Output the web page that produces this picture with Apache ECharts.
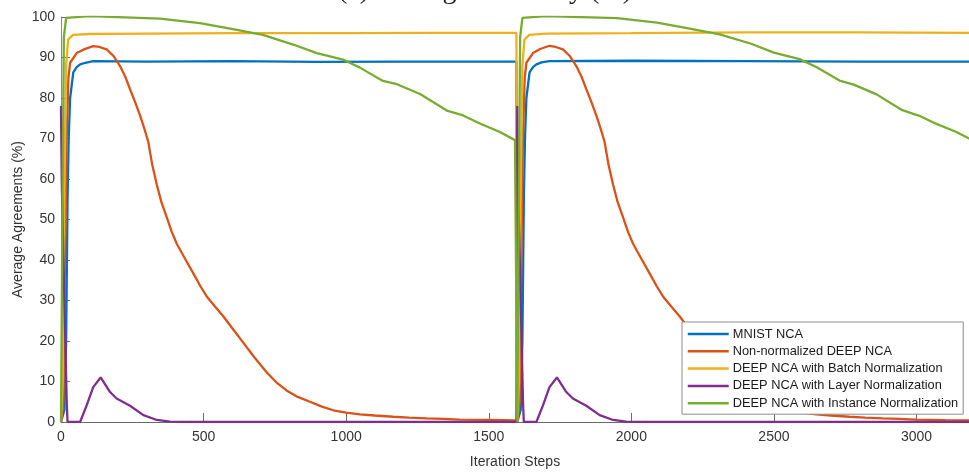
<!DOCTYPE html>
<html>
<head>
<meta charset="utf-8">
<script src="https://cdn.jsdelivr.net/npm/echarts@6/dist/echarts.min.js"></script>
<style>
html,body{margin:0;padding:0;background:#fff;}
#chart{width:969px;height:474px;}
</style>
</head>
<body>
<div id="chart"></div>
<script>
// ---- data ----
const seriesNames = [
  'MNIST NCA',
  'Non-normalized DEEP NCA',
  'DEEP NCA with Batch Normalization',
  'DEEP NCA with Layer Normalization',
  'DEEP NCA with Instance Normalization'
];
const xTicks = [0, 500, 1000, 1500, 2000, 2500, 3000];
const yTicks = [0, 10, 20, 30, 40, 50, 60, 70, 80, 90, 100];

const mnistSteps = [0, 12, 18, 23, 27, 32, 43, 55, 67, 85, 113, 300, 600, 900, 1200, 1500, 1597,
  1600, 1612, 1618, 1623, 1627, 1632, 1643, 1655, 1667, 1685, 1713, 2000, 2400, 2800, 3200];
const mnistValues = [0, 3, 20, 55, 70, 80, 86.3, 87.6, 88.3, 88.7, 89.1, 89.0, 89.1, 88.9, 89.0, 89.0, 89.0,
  0, 3, 20, 55, 70, 80, 86.3, 87.6, 88.3, 88.8, 89.1, 89.2, 89.1, 89.0, 89.0];

const plainSteps = [0, 8, 14, 20, 26, 32, 55, 80, 113, 135, 160, 185, 207, 225, 242, 260, 277, 292, 306, 320, 336, 352, 371, 388, 406, 435, 464, 490, 511, 540, 569, 600, 639, 680, 721, 755, 791, 830, 873, 915, 955, 1000, 1048, 1100, 1165, 1220, 1282, 1340, 1399, 1500, 1592,
  1600, 1608, 1614, 1620, 1626, 1632, 1655, 1680, 1713, 1735, 1760, 1785, 1807, 1825, 1842, 1860, 1877, 1892, 1906, 1920, 1936, 1952, 1971, 1988, 2006, 2035, 2064, 2090, 2111, 2140, 2169, 2200, 2239, 2280, 2321, 2355, 2391, 2430, 2473, 2515, 2555, 2600, 2648, 2700, 2765, 2820, 2882, 2940, 2999, 3100, 3200];
const plainValues = [0, 5, 40, 70, 85, 88.7, 91.1, 92.0, 92.8, 92.6, 92.0, 90.3, 87.9, 85.3, 82.2, 79.0, 75.7, 72.5, 69.2, 63.5, 58.6, 54.3, 50.5, 47.0, 44.0, 40.3, 36.7, 33.4, 31.0, 28.5, 26.1, 23.2, 19.6, 15.8, 12.3, 9.8, 7.8, 6.2, 5.0, 3.8, 2.9, 2.3, 1.9, 1.6, 1.3, 1.1, 0.9, 0.75, 0.6, 0.5, 0.4,
  0, 5, 40, 70, 85, 88.7, 91.1, 92.1, 92.9, 92.6, 92.0, 90.3, 87.9, 85.3, 82.2, 79.0, 75.7, 72.5, 69.2, 63.5, 58.6, 54.3, 50.5, 47.0, 44.0, 40.3, 36.7, 33.4, 31.0, 28.5, 26.1, 23.2, 19.6, 15.8, 12.3, 9.8, 7.8, 6.2, 5.0, 3.8, 2.9, 2.3, 1.9, 1.6, 1.3, 1.1, 0.9, 0.75, 0.6, 0.45, 0.35];

const batchSteps = [0, 6, 12, 18, 25, 42, 100, 300, 600, 1000, 1300, 1597,
  1600, 1606, 1612, 1618, 1625, 1642, 1700, 2000, 2400, 2800, 3200];
const batchValues = [0, 10, 58, 88, 94.4, 95.6, 95.8, 95.9, 96.0, 96.0, 96.1, 96.1,
  0, 10, 58, 88, 94.4, 95.6, 95.9, 96.0, 96.2, 96.2, 96.1];

const layerSteps = [0, 3, 12, 20, 23, 67, 90, 113, 139, 172, 195, 242, 289, 336, 382, 450, 1597,
  1600, 1603, 1612, 1620, 1623, 1667, 1690, 1713, 1739, 1772, 1795, 1842, 1889, 1936, 1982, 2050, 3200];
const layerValues = [78, 58, 30, 5, 0, 0, 4.1, 8.6, 11.0, 7.4, 5.8, 4.0, 1.7, 0.5, 0.1, 0, 0,
  78, 58, 30, 5, 0, 0, 4.1, 8.6, 11.0, 7.4, 5.8, 4.0, 1.7, 0.5, 0.1, 0, 0];

const instanceSteps = [0, 5, 10, 18, 102, 347, 487, 603, 708, 814, 897, 989, 1048, 1129, 1178, 1259, 1353, 1410, 1469, 1539, 1592, 1597,
  1600, 1605, 1610, 1618, 1700, 1950, 2090, 2200, 2310, 2420, 2500, 2590, 2650, 2730, 2780, 2860, 2950, 3010, 3070, 3140, 3200];
const instanceValues = [0, 50, 95, 99.8, 100.2, 99.6, 98.5, 97.0, 95.6, 93.2, 91.1, 89.5, 87.5, 84.2, 83.4, 81.0, 76.9, 75.7, 73.7, 71.6, 69.6, 69.5,
  0, 50, 95, 99.8, 100.2, 99.7, 98.6, 97.2, 95.7, 93.4, 91.2, 89.6, 87.6, 84.3, 83.3, 80.9, 77.0, 75.6, 73.6, 71.6, 69.4];

const colors = ['#0072BD', '#D95319', '#EDB120', '#7E2F8E', '#77AC30'];

function pairs(xs, ys) { return xs.map((x, i) => [x, ys[i]]); }
const allData = [
  pairs(mnistSteps, mnistValues),
  pairs(plainSteps, plainValues),
  pairs(batchSteps, batchValues),
  pairs(layerSteps, layerValues),
  pairs(instanceSteps, instanceValues)
];

const chart = echarts.init(document.getElementById('chart'), null, {renderer: 'canvas'});
const axisColor = '#6a6a6a';
const labelColor = '#333333';
const font = 'Liberation Sans, Arial, Helvetica, sans-serif';

chart.setOption({
  animation: false,
  backgroundColor: '#ffffff',
  color: colors,
  grid: {left: 61, right: 0, top: 17, bottom: 47, containLabel: false},
  graphic: [{
    type: 'text',
    left: 338,
    top: -23,
    silent: true,
    style: {
      text: '(c) Average Accuracy (%)',
      font: '28px "Liberation Serif", "DejaVu Serif", serif',
      fill: '#222'
    }
  }],
  legend: {
    orient: 'vertical',
    left: 682,
    top: 322,
    data: seriesNames,
    itemWidth: 41,
    itemHeight: 14,
    itemGap: 3.3,
    padding: [5, 5, 4, 4.5],
    backgroundColor: '#ffffff',
    borderColor: '#8c8c8c',
    borderWidth: 1,
    borderRadius: 0,
    itemStyle: {opacity: 0},
    lineStyle: {width: 2.5},
    textStyle: {fontFamily: font, fontSize: 12.8, color: '#1a1a1a', lineHeight: 14, padding: [0, 0, 0, -1]},
    z: 10
  },
  xAxis: {
    type: 'value',
    min: 0,
    max: 3184,
    interval: 500,
    name: 'Iteration Steps',
    nameLocation: 'middle',
    nameGap: 33,
    nameMoveOverlap: false,
    nameTextStyle: {fontFamily: font, fontSize: 14, color: labelColor},
    axisLine: {show: true, lineStyle: {color: axisColor, width: 1}},
    axisTick: {show: true, inside: true, length: 9, lineStyle: {color: axisColor}},
    axisLabel: {fontFamily: font, fontSize: 14, color: labelColor, margin: 8, showMaxLabel: false,
      formatter: v => (xTicks.indexOf(v) >= 0 ? String(v) : '')},
    splitLine: {show: false}
  },
  yAxis: {
    type: 'value',
    min: 0,
    max: 100,
    interval: 10,
    name: 'Average Agreements (%)',
    nameLocation: 'middle',
    nameGap: 36,
    nameMoveOverlap: false,
    nameTextStyle: {fontFamily: font, fontSize: 14, color: labelColor},
    axisLine: {show: true, lineStyle: {color: '#8a8a8a', width: 1}},
    axisTick: {show: true, inside: true, length: 9, lineStyle: {color: axisColor}},
    axisLabel: {fontFamily: font, fontSize: 14, color: labelColor, margin: 6,
      formatter: v => (yTicks.indexOf(v) >= 0 ? String(v) : '')},
    splitLine: {show: false}
  },
  series: seriesNames.map((name, i) => ({
    name: name,
    type: 'line',
    data: allData[i],
    symbol: 'none',
    showSymbol: false,
    smooth: false,
    clip: true,
    lineStyle: {width: 2.3, color: colors[i]},
    itemStyle: {color: colors[i]},
    z: 2 + i
  }))
});
</script>
</body>
</html>
